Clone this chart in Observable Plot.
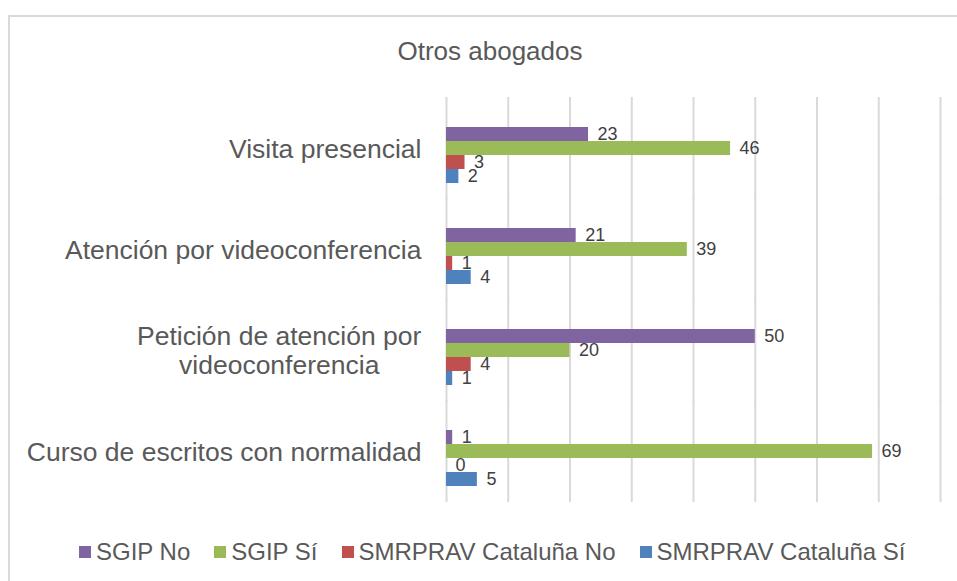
<!DOCTYPE html>
<html>
<head>
<meta charset="utf-8">
<script src="https://cdn.jsdelivr.net/npm/d3@7"></script>
<script src="https://cdn.jsdelivr.net/npm/@observablehq/plot@0.6"></script>
<style>
  body { margin: 0; background: #fff; font-family: "Liberation Sans", Arial, sans-serif; }
  #frame { position: relative; width: 957px; height: 581px; overflow: hidden; background: #fff; }
  #border { position: absolute; left: 8px; top: 15px; width: 1000px; height: 1000px;
            border-left: 2px solid #d9d9d9; border-top: 2px solid #d9d9d9; }
  #title { position: absolute; top: 35px; left: 0; width: 980px; text-align: center;
           font-size: 26px; color: #595959; line-height: 32px; }
  #chart { position: absolute; top: 98px; left: 0; }
  #legend { position: absolute; top: 538px; left: 79px; display: flex; align-items: center;
            font-size: 24px; color: #595959; line-height: 28px; white-space: nowrap; }
  .item { display: flex; align-items: center; margin-right: 24px; }
  .sw { width: 12px; height: 12px; margin-right: 5px; }
</style>
</head>
<body>
<div id="frame">
  <div id="border"></div>
  <div id="title"></div>
  <div id="chart"></div>
  <div id="legend"></div>
</div>
<script>
const titleText = "Otros abogados";
const categories = [
  "Visita presencial",
  "Atención por videoconferencia",
  "Petición de atención por videoconferencia",
  "Curso de escritos con normalidad"
];
const categoryLabels = [
  "Visita presencial",
  "Atención por videoconferencia",
  "Petición de atención por\nvideoconferencia",
  "Curso de escritos con normalidad"
];
const series = ["SGIP No", "SGIP Sí", "SMRPRAV Cataluña No", "SMRPRAV Cataluña Sí"];
const sgipNo = [23, 21, 50, 1];
const sgipSi = [46, 39, 20, 69];
const smrNo  = [3, 1, 4, 0];
const smrSi  = [2, 4, 1, 5];
const colors = ["#8064A2", "#9BBB59", "#C0504D", "#4F81BD"];
const gridTicks = [0, 10, 20, 30, 40, 50, 60, 70, 80];

const seriesValues = [sgipNo, sgipSi, smrNo, smrSi];
const data = [];
categories.forEach((c, i) => {
  series.forEach((s, j) => data.push({cat: c, series: s, value: seriesValues[j][i]}));
});
const labelOf = new Map(categories.map((c, i) => [c, categoryLabels[i]]));

document.getElementById("title").textContent = titleText;

const H = 404;
const padIn = 0.267;
const step = H / categories.length;
const halfGap = step * padIn / 2;

const chart = Plot.plot({
  width: 957,
  height: H,
  marginLeft: 446,
  marginRight: 17,
  marginTop: 0,
  marginBottom: 0,
  style: { fontFamily: "Liberation Sans, Arial, sans-serif", background: "transparent", overflow: "visible" },
  x: { domain: [0, 80], axis: null },
  y: { domain: ["", ...series], padding: 0, axis: null },
  fy: { domain: categories, paddingInner: padIn, paddingOuter: padIn / 2, label: null },
  color: { domain: series, range: colors },
  marks: [
    Plot.ruleX(gridTicks, { x: d => d, stroke: "#d9d9d9", strokeWidth: 2,
                            insetTop: -halfGap - 0.5, insetBottom: -halfGap - 0.5 }),
    Plot.axisFy({ anchor: "left", label: null, tickSize: 0, tickPadding: 25, fontSize: 26.5,
                  lineHeight: 1.1, fill: "#595959", tickFormat: d => labelOf.get(d) }),
    Plot.barX(data, { x: "value", y: "series", fy: "cat", fill: "series" }),
    Plot.text(data, { x: "value", y: "series", fy: "cat", text: d => String(d.value),
                      textAnchor: "start", dx: 9, fontSize: 18, fill: "#404040" })
  ]
});
document.getElementById("chart").appendChild(chart);

// center multi-line category labels like the original
chart.querySelectorAll("text").forEach(t => {
  if (t.querySelectorAll("tspan").length > 1) {
    const bb = t.getBBox();
    t.setAttribute("text-anchor", "middle");
    t.setAttribute("transform", (t.getAttribute("transform") || "") + ` translate(${-bb.width / 2},0)`);
  }
});

const legend = document.getElementById("legend");
series.forEach((s, i) => {
  const it = document.createElement("div");
  it.className = "item";
  const sw = document.createElement("div");
  sw.className = "sw";
  sw.style.background = colors[i];
  const tx = document.createElement("span");
  tx.textContent = s;
  it.appendChild(sw); it.appendChild(tx);
  legend.appendChild(it);
});
</script>
</body>
</html>
